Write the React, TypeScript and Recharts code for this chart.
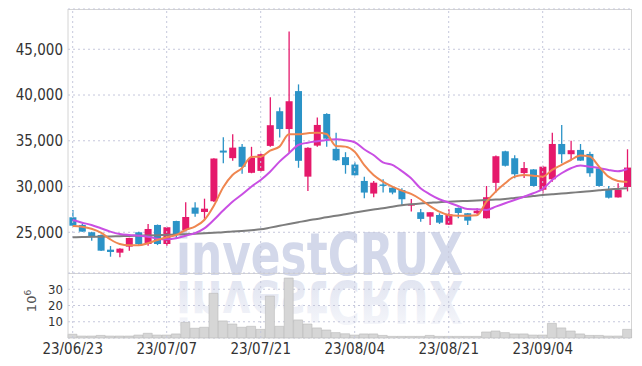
import React from "react";
import { ComposedChart, Bar, Line, XAxis, YAxis, CartesianGrid, ReferenceLine } from "recharts";

const dates = [
  "23/06/23", "23/06/26", "23/06/27", "23/06/28", "23/06/29", "23/06/30",
  "23/07/03", "23/07/04", "23/07/05", "23/07/06", "23/07/07",
  "23/07/10", "23/07/11", "23/07/12", "23/07/13", "23/07/14",
  "23/07/17", "23/07/18", "23/07/19", "23/07/20", "23/07/21",
  "23/07/24", "23/07/25", "23/07/26", "23/07/27", "23/07/28",
  "23/07/31", "23/08/01", "23/08/02", "23/08/03", "23/08/04",
  "23/08/07", "23/08/08", "23/08/09", "23/08/10", "23/08/11",
  "23/08/14", "23/08/16", "23/08/17", "23/08/18", "23/08/21",
  "23/08/22", "23/08/23", "23/08/24", "23/08/25",
  "23/08/28", "23/08/29", "23/08/30", "23/08/31", "23/09/01",
  "23/09/04", "23/09/05", "23/09/06", "23/09/07", "23/09/08",
  "23/09/11", "23/09/12", "23/09/13", "23/09/14", "23/09/15",
];

const opens = [
  26640, 25800, 25000, 24700, 23100, 22770, 23430, 25000, 23720, 25800,
  23720, 26230, 25250, 27700, 27220, 28390, 33930, 33100, 34340, 31500,
  31710, 34440, 38230, 36280, 40430, 31080, 34470, 37930, 34120, 33210,
  32400, 30610, 29230, 30230, 29870, 29620, 27910, 27190, 26710, 26890,
  25830, 27660, 27080, 27080, 26530, 30400, 33850, 33090, 31470, 31870,
  29650, 30790, 34650, 33530, 34000, 33560, 31990, 29700, 28810, 29950,
];
const highs = [
  27440, 25900, 25050, 24750, 23500, 23250, 24400, 25050, 25910, 25850,
  25600, 26250, 28280, 28280, 28670, 33100, 35390, 35710, 34650, 34340,
  33600, 39760, 38640, 46930, 41160, 34300, 37530, 38000, 35880, 33750,
  32650, 31080, 30610, 30790, 30060, 29810, 28640, 27550, 27190, 27080,
  27520, 27700, 27100, 27620, 30060, 33400, 33900, 33420, 32680, 31900,
  32280, 35890, 36730, 35010, 34650, 33810, 32000, 30060, 30360, 34070,
];
const lows = [
  25700, 25050, 24080, 22950, 22330, 22270, 22990, 23540, 23540, 23600,
  23540, 24340, 25100, 26700, 26340, 28300, 32540, 32810, 31400, 31450,
  31650, 34340, 35360, 33710, 32050, 29500, 34360, 34340, 32800, 31400,
  31200, 28720, 28830, 29340, 29150, 27930, 27260, 26160, 25800, 25910,
  25800, 26530, 25800, 27000, 26500, 29340, 32200, 30900, 30930, 30000,
  29250, 30530, 32540, 32880, 32800, 31080, 30000, 28700, 28800, 29470,
];
const closes = [
  25720, 25070, 24450, 22990, 22850, 23210, 24380, 23720, 25360, 23720,
  25550, 24700, 26670, 27030, 27580, 33060, 33710, 34250, 32150, 33120,
  33530, 36700, 36280, 39320, 32810, 34230, 36730, 35230, 32870, 32340,
  31230, 29340, 30420, 30090, 29340, 28610, 28100, 26460, 27190, 26050,
  26970, 27110, 26270, 27360, 28830, 33310, 32270, 31340, 32020, 30060,
  32170, 34650, 33530, 33970, 32830, 31450, 30060, 28780, 29650, 32070,
];

const ma5 = [
  25690, 25610, 25390, 24960, 24230, 23720, 23580, 23580, 23800, 24160,
  24450, 24700, 25250, 25610, 26340, 27870, 29900, 31260, 32000, 33230,
  33260, 33920, 34360, 35710, 35710, 35820, 35890, 35740, 34430, 34360,
  33810, 32360, 31260, 30530, 29980, 29550, 29190, 28610, 27870, 27250,
  26890, 26810, 26810, 26860, 28310, 29440, 30360, 31080, 31260, 31190,
  31080, 31810, 32360, 32900, 33390, 33280, 32170, 31080, 30610, 30500,
];
const ma20 = [
  26340, 26050, 25800, 25440, 25070, 24810, 24700, 24630, 24520, 24300,
  24230, 24340, 24630, 24890, 25420, 26340, 27380, 28340, 29130, 29980,
  30720, 31620, 32720, 33630, 34540, 34790, 34950, 35090, 35160, 35060,
  34840, 34070, 33450, 32650, 32360, 31700, 30900, 29810, 29150, 28610,
  28240, 27870, 27540, 27510, 27440, 27800, 28170, 28530, 28890, 29260,
  29730, 30720, 31450, 32000, 32300, 32170, 32030, 31810, 31670, 31920,
];
const ma60 = [
  24450, 24480, 24500, 24520, 24540, 24570, 24600, 24620, 24650, 24680,
  24720, 24750, 24790, 24840, 24890, 24950, 25000, 25080, 25150, 25230,
  25320, 25510, 25710, 25910, 26100, 26290, 26460, 26640, 26800, 26980,
  27150, 27320, 27480, 27630, 27800, 27950, 28060, 28150, 28220, 28290,
  28340, 28390, 28430, 28480, 28520, 28570, 28650, 28750, 28850, 28960,
  29070, 29150, 29230, 29320, 29400, 29490, 29580, 29670, 29740, 29810,
];

// volume in millions of shares
const volumes = [
  2.3, 1.2, 1.2, 1.6, 1.2, 1.2, 1.2, 1.8, 2.9, 1.8,
  1.8, 2.5, 9.6, 6.0, 6.6, 27.5, 10.5, 8.6, 6.6, 7.2,
  5.3, 25.8, 7.2, 36.9, 11.1, 8.6, 6.2, 4.9, 3.3, 2.6,
  1.8, 2.5, 2.5, 1.6, 1.0, 1.0, 1.0, 1.0, 1.6, 1.0,
  1.0, 1.0, 1.0, 1.0, 3.7, 4.3, 3.3, 2.5, 2.5, 1.8,
  1.8, 9.0, 6.2, 4.3, 2.5, 1.6, 1.6, 1.2, 1.2, 5.3,
];

const xTicks = ["23/06/23", "23/07/07", "23/07/21", "23/08/04", "23/08/21", "23/09/04"];
const priceTicks = [25000, 30000, 35000, 40000, 45000];
const volumeTicks = [10, 20, 30];

const data = dates.map((date, i) => ({
  date,
  open: opens[i],
  high: highs[i],
  low: lows[i],
  close: closes[i],
  ma5: ma5[i],
  ma20: ma20[i],
  ma60: ma60[i],
  volume: volumes[i],
}));

const UP = "#e5196b";
const DOWN = "#2b93c7";
const FONT = "'Liberation Sans Narrow', 'DejaVu Sans Condensed', sans-serif";
const tickStyle = { fill: "#333", fontSize: 15, fontFamily: FONT };
const volTickStyle = { fill: "#333", fontSize: 13, fontFamily: FONT };
const GRID = "#c6c8dc";

const Candle = (props: any) => {
  const { x, y, width, height, payload } = props;
  const { open, close, high, low } = payload;
  const color = close >= open ? UP : DOWN;
  const top0 = height < 0 ? y + height : y;
  const h = Math.abs(height);
  const ratio = h / Math.max(high - low, 1);
  const bTop = top0 + (high - Math.max(open, close)) * ratio;
  const bBot = top0 + (high - Math.min(open, close)) * ratio;
  const cx = x + width / 2;
  return (
    <g>
      <line x1={cx} x2={cx} y1={top0} y2={top0 + h} stroke={color} strokeWidth={1.3} />
      <rect x={x} y={bTop} width={width} height={Math.max(bBot - bTop, 1.5)} fill={color} />
    </g>
  );
};

export default function App() {
  return (
    <div style={{ position: "absolute", left: 0, top: 0, width: 642, height: 366, background: "#fff", overflow: "hidden" }}>
      <svg width={642} height={366} style={{ position: "absolute", left: 0, top: 0 }}>
        <defs>
          <linearGradient id="fade" x1="0" y1="0" x2="0" y2="1">
            <stop offset="0%" stopColor="#d3d8ea" stopOpacity={0.15} />
            <stop offset="100%" stopColor="#d3d8ea" stopOpacity={0.8} />
          </linearGradient>
        </defs>
        <text x={176} y={275} fontFamily={FONT} fontWeight="bold" fontSize={58} fill="#d3d8ea" textLength={287} lengthAdjust="spacingAndGlyphs">
          investCRUX
        </text>
        <g transform="translate(0, 556) scale(1, -1)">
          <text x={176} y={275} fontFamily={FONT} fontWeight="bold" fontSize={58} fill="url(#fade)" textLength={287} lengthAdjust="spacingAndGlyphs">
            investCRUX
          </text>
        </g>
        <text
          transform="translate(36, 301) rotate(-90)"
          textAnchor="middle"
          fontFamily="'DejaVu Sans', sans-serif"
          fontSize={13}
          fill="#555"
        >
          10<tspan dy={-5} fontSize={9}>6</tspan>
        </text>
      </svg>
      <div style={{ position: "absolute", left: 68, top: 9, width: 564, height: 329, borderTop: "1px solid #d4d4d4", borderRight: "1px solid #d4d4d4", boxSizing: "border-box" }} />
      <div style={{ position: "absolute", left: 68, top: 273, width: 564, height: 1, background: "#d4d4d4" }} />

      <div style={{ position: "absolute", left: 0, top: 0 }}>
        <ComposedChart width={642} height={274} data={data} margin={{ top: 9, right: 10, bottom: 1, left: 0 }} barCategoryGap="15%">
          <CartesianGrid vertical={false} stroke={GRID} strokeDasharray="2 3" />
          <XAxis dataKey="date" hide />
          <YAxis
            domain={[20550, 49400]}
            ticks={priceTicks}
            interval={0}
            allowDataOverflow
            width={68}
            tick={tickStyle}
            tickLine={false}
            tickSize={0}
            tickMargin={5}
            axisLine={{ stroke: "#d4d4d4" }}
            tickFormatter={(v: number) => v.toLocaleString("en-US")}
          />
          {xTicks.map((d) => (
            <ReferenceLine key={d} x={d} stroke={GRID} strokeDasharray="2 3" />
          ))}
          <Bar dataKey={(d: any) => [d.low, d.high]} shape={<Candle />} isAnimationActive={false} />
          <Line type="monotone" dataKey="ma60" stroke="#7d7d7d" strokeWidth={2} dot={false} isAnimationActive={false} />
          <Line type="monotone" dataKey="ma20" stroke="#c94fe3" strokeWidth={2} dot={false} isAnimationActive={false} />
          <Line type="monotone" dataKey="ma5" stroke="#ef8650" strokeWidth={2} dot={false} isAnimationActive={false} />
        </ComposedChart>
      </div>

      <div style={{ position: "absolute", left: 0, top: 273 }}>
        <ComposedChart width={642} height={93} data={data} margin={{ top: 0, right: 10, bottom: 0, left: 0 }} barCategoryGap={0}>
          <CartesianGrid vertical={false} stroke={GRID} strokeDasharray="2 3" />
          <XAxis
            dataKey="date"
            ticks={xTicks}
            interval={0}
            height={28}
            tick={tickStyle}
            tickLine={false}
            tickSize={0}
            tickMargin={5}
            axisLine={false}
          />
          <YAxis
            domain={[0, 40]}
            ticks={volumeTicks}
            interval={0}
            width={68}
            tick={volTickStyle}
            tickLine={false}
            tickSize={0}
            tickMargin={5}
            axisLine={{ stroke: "#d4d4d4" }}
          />
          {xTicks.map((d) => (
            <ReferenceLine key={d} x={d} stroke={GRID} strokeDasharray="2 3" />
          ))}
          <Bar dataKey="volume" fill="#d6d6d6" stroke="#b8b8b8" strokeWidth={0.6} isAnimationActive={false} />
        </ComposedChart>
      </div>
    </div>
  );
}
